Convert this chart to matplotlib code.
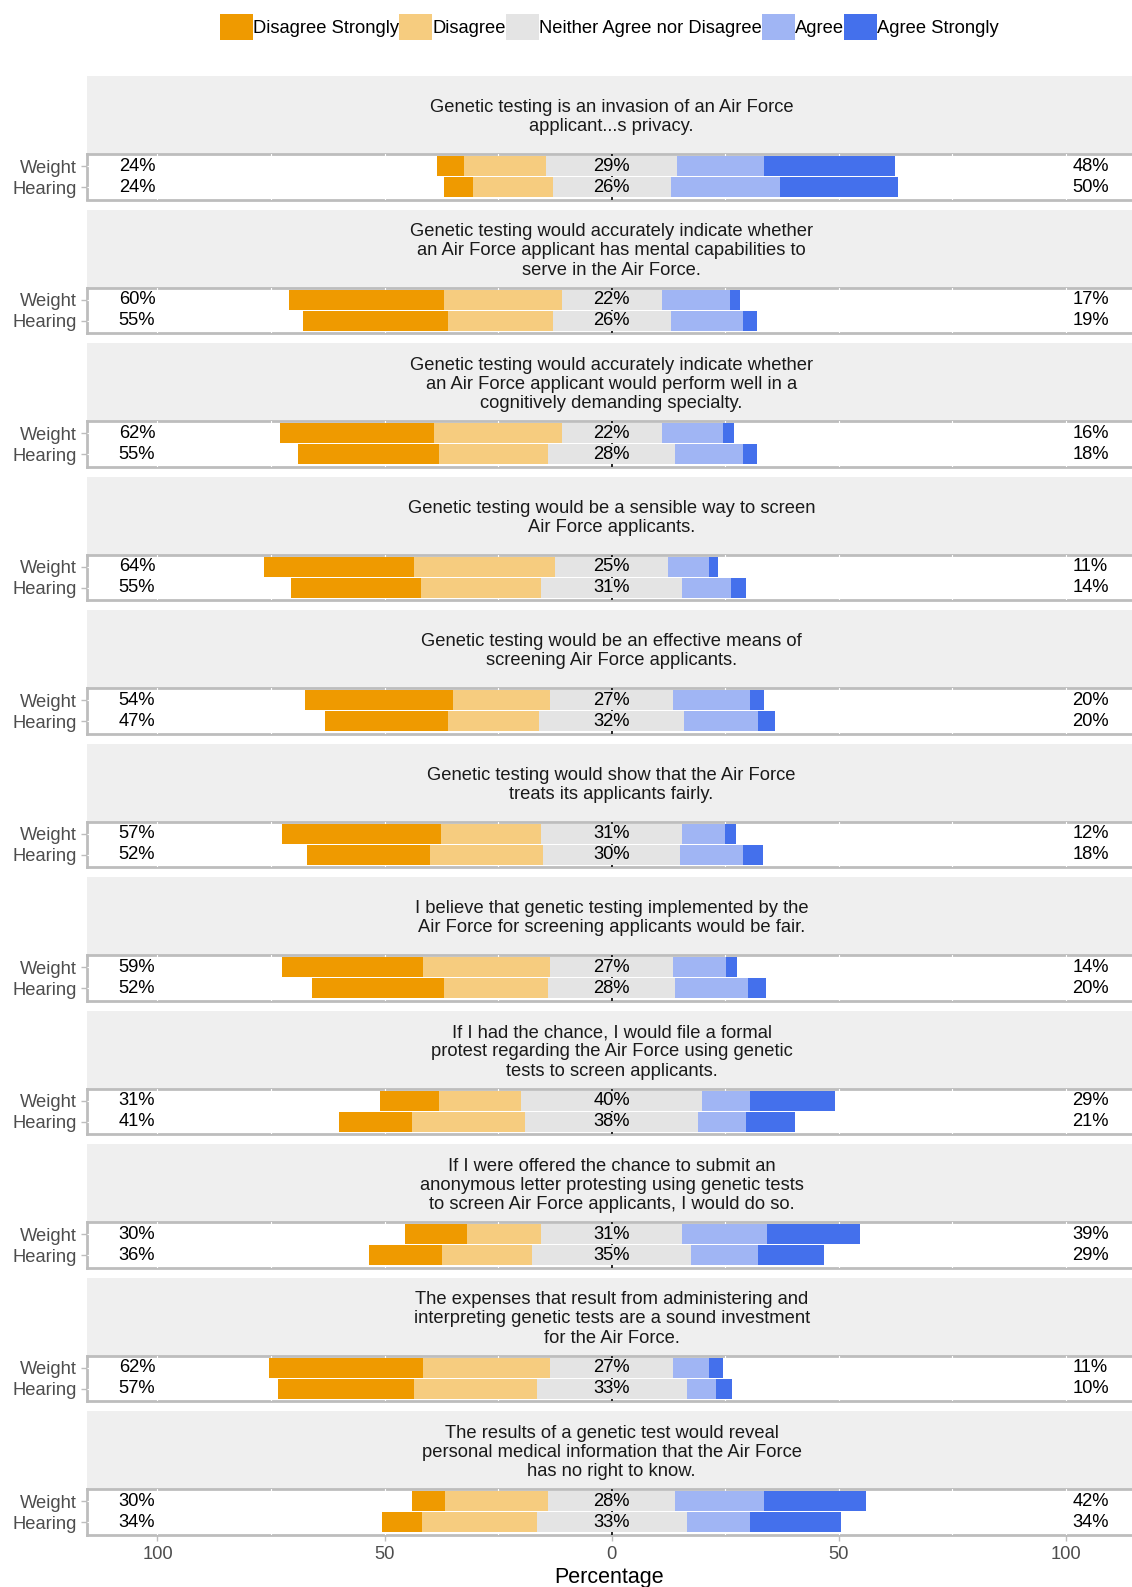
import matplotlib
matplotlib.use("Agg")
import matplotlib.pyplot as plt
from matplotlib.patches import Patch

plt.rcParams['font.family'] = ['Liberation Sans', 'DejaVu Sans']

# Daten (Prozent je Antwortkategorie)
questions = [
    "Genetic testing is an invasion of an Air Force\napplicant...s privacy.",
    "Genetic testing would accurately indicate whether\nan Air Force applicant has mental capabilities to\nserve in the Air Force.",
    "Genetic testing would accurately indicate whether\nan Air Force applicant would perform well in a\ncognitively demanding specialty.",
    "Genetic testing would be a sensible way to screen\nAir Force applicants.",
    "Genetic testing would be an effective means of\nscreening Air Force applicants.",
    "Genetic testing would show that the Air Force\ntreats its applicants fairly.",
    "I believe that genetic testing implemented by the\nAir Force for screening applicants would be fair.",
    "If I had the chance, I would file a formal\nprotest regarding the Air Force using genetic\ntests to screen applicants.",
    "If I were offered the chance to submit an\nanonymous letter protesting using genetic tests\nto screen Air Force applicants, I would do so.",
    "The expenses that result from administering and\ninterpreting genetic tests are a sound investment\nfor the Air Force.",
    "The results of a genetic test would reveal\npersonal medical information that the Air Force\nhas no right to know.",
]
groups = ["Weight", "Hearing"]
levels = ["Disagree Strongly", "Disagree", "Neither Agree nor Disagree", "Agree", "Agree Strongly"]
colors = ["#EF9A00", "#F6CC7F", "#E4E4E4", "#A0B5F4", "#4470EC"]

weight_ds = [6, 34, 34, 33, 32.5, 35, 31, 13, 13.6, 34, 7.3]
weight_d = [18, 26, 28, 31, 21.5, 22, 28, 18, 16.3, 28, 22.7]
weight_n = [29, 22, 22, 25, 27, 31, 27, 40, 31, 27, 28]
weight_a = [19, 15, 13.5, 9, 17, 9.5, 11.7, 10.5, 18.8, 8, 19.5]
weight_as = [29, 2.3, 2.5, 2, 3, 2.5, 2.5, 18.6, 20.5, 3, 22.5]

hearing_ds = [6.5, 32, 31, 28.5, 27, 27, 29, 16, 16.2, 30, 8.7]
hearing_d = [17.5, 23, 24, 26.5, 20, 25, 23, 25, 19.8, 27, 25.3]
hearing_n = [26, 26, 28, 31, 32, 30, 28, 38, 35, 33, 33]
hearing_a = [24, 16, 15, 10.7, 16.2, 14, 16, 10.5, 14.7, 6.5, 14]
hearing_as = [26, 3, 3, 3.3, 3.8, 4.3, 4, 10.8, 14.5, 3.5, 20]

# Layout in Pixel
W, H = 1132, 1587
left_px, right_px = 86.6, 1132
top0, strip_h, panel_h, pitch = 76, 78, 45.5, 133.5
xlim = (-115.6, 114.6)
fs = 13.25

fig = plt.figure(figsize=(W / 100, H / 100), dpi=100)

def fig_box(top, height):
    return [left_px / W, 1 - (top + height) / H, (right_px - left_px) / W, height / H]

for i, q in enumerate(questions):
    st = top0 + i * pitch
    # Streifen mit Frage
    sax = fig.add_axes(fig_box(st, strip_h))
    sax.set_facecolor("#EFEFEF")
    sax.set_xlim(xlim)
    sax.set_ylim(0, 1)
    for s in sax.spines.values():
        s.set_visible(False)
    sax.set_xticks([])
    sax.set_yticks([])
    sax.text(0, 0.47, q, ha="center", va="center", fontsize=fs, color="#1A1A1A",
             linespacing=1.17, multialignment="center")

    # Panel mit Balken
    ax = fig.add_axes(fig_box(st + strip_h, panel_h))
    ax.set_xlim(xlim)
    ax.set_ylim(0.4, 2.6)
    rows = [
        (2, [weight_ds[i], weight_d[i], weight_n[i], weight_a[i], weight_as[i]]),
        (1, [hearing_ds[i], hearing_d[i], hearing_n[i], hearing_a[i], hearing_as[i]]),
    ]
    for y, vals in rows:
        start = -(vals[2] / 2 + vals[1] + vals[0])
        for v, c in zip(vals, colors):
            ax.barh(y, v, left=start, height=0.96, color=c, zorder=2, linewidth=0)
            start += v
        ax.text(-104.5, y, f"{round(vals[0] + vals[1])}%", ha="center", va="center", fontsize=fs, zorder=3)
        ax.text(0, y, f"{round(vals[2])}%", ha="center", va="center", fontsize=fs, zorder=3)
        ax.text(105.5, y, f"{round(vals[3] + vals[4])}%", ha="center", va="center", fontsize=fs, zorder=3)

    for s in ["top", "bottom", "left"]:
        ax.spines[s].set_color("#BDBDBD")
        ax.spines[s].set_linewidth(2)
        ax.spines[s].set_zorder(0.5)
    ax.spines["right"].set_visible(False)
    for gx in range(-100, 101, 25):
        ax.axvline(gx, color="white", lw=0.8, zorder=0.6)
    for gy in [1, 2]:
        ax.axhline(gy, color="white", lw=0.8, zorder=0.6)
    ax.axvline(0, color="black", lw=1.2, zorder=0.7)

    ax.set_yticks([2, 1])
    ax.set_yticklabels(groups, fontsize=fs, color="#4D4D4D")
    ax.tick_params(axis="y", length=4, width=1, color="#BDBDBD", pad=3)
    if i == len(questions) - 1:
        ticks = [-100, -50, 0, 50, 100]
        ax.set_xticks(ticks)
        ax.set_xticklabels([str(abs(t)) for t in ticks], fontsize=fs, color="#4D4D4D")
        ax.tick_params(axis="x", length=4, width=1, color="#BDBDBD", pad=4)
    else:
        ax.set_xticks([])

fig.text((left_px + right_px) / 2 / W, 1 - 1578 / H, "Percentage", ha="center", va="center", fontsize=15.5)

handles = [Patch(facecolor=c, edgecolor="none") for c in colors]
fig.legend(handles, levels, loc="center", bbox_to_anchor=((left_px + right_px) / 2 / W, 1 - 27 / H),
           ncol=5, frameon=False, fontsize=fs, handlelength=1.8, handleheight=1.75,
           handletextpad=0.0, columnspacing=0.0, borderpad=0)

fig.savefig("out.png", dpi=100)
